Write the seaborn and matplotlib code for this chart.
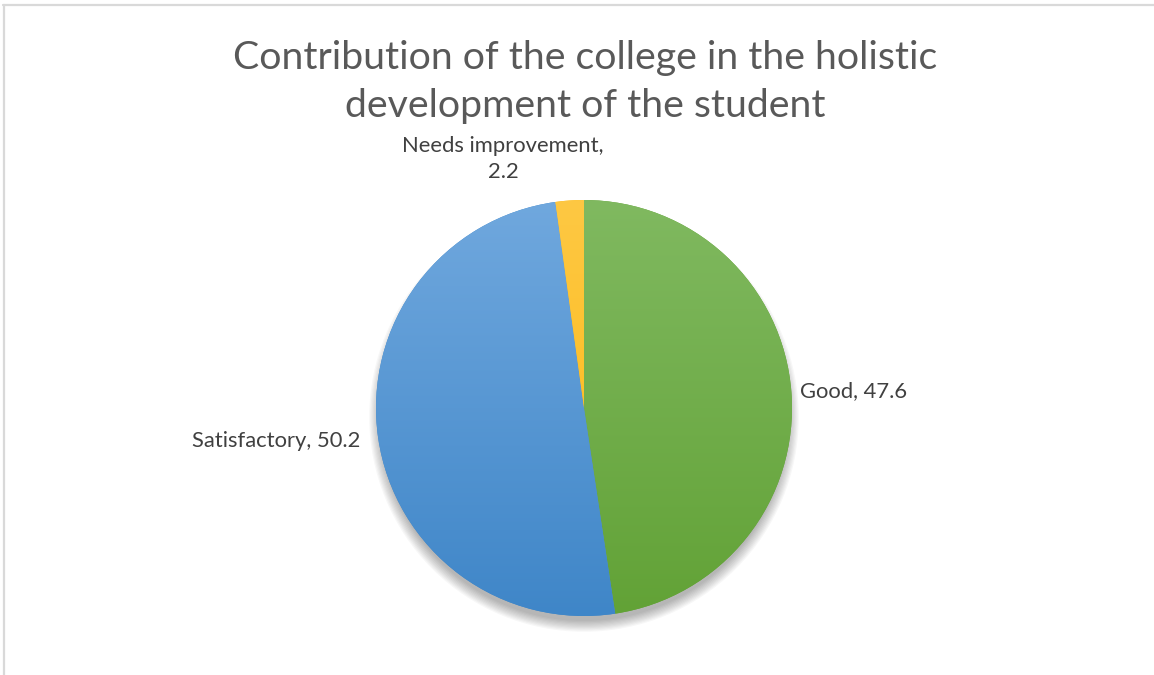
import numpy as np
import matplotlib
matplotlib.use("Agg")
import matplotlib.pyplot as plt
import seaborn as sns
from matplotlib.colors import LinearSegmentedColormap
from matplotlib.patches import Circle
from matplotlib.lines import Line2D

categories = ["Good", "Satisfactory", "Needs improvement"]
values = [47.6, 50.2, 2.2]
top_colors = ["#80b960", "#70a8de", "#fec843"]
bottom_colors = ["#62a236", "#3f86c8", "#fdb70f"]

sns.set_theme(style="white")
plt.rcParams["font.family"] = ["Lato", "DejaVu Sans"]

W, H = 1154, 675
fig = plt.figure(figsize=(W / 100, H / 100), dpi=100)
ax = fig.add_axes([0, 0, 1, 1])

cx, cy, r = 584, H - 408, 208

# soft shadow, mostly below the pie
for i in range(10):
    ax.add_patch(Circle((cx, cy - 9), r - 4 + i * 1.2, color="black",
                        alpha=0.03, lw=0, zorder=1))

wedges, _ = ax.pie(values, startangle=90, counterclock=False,
                   center=(cx, cy), radius=r, frame=True,
                   colors=bottom_colors, wedgeprops=dict(lw=0, zorder=2))
ax.set_xlim(0, W)
ax.set_ylim(0, H)
ax.axis("off")

# vertical gradient fill in each slice
grad = np.linspace(0, 1, 256).reshape(-1, 1)
for w, c0, c1 in zip(wedges, top_colors, bottom_colors):
    cmap = LinearSegmentedColormap.from_list("g", [c0, c1])
    im = ax.imshow(grad, cmap=cmap, extent=[cx - r, cx + r, cy - r, cy + r],
                   origin="upper", aspect="auto", zorder=3)
    im.set_clip_path(w)

label_col = "#404040"
ax.text(800, H - 391, "Good, 47.6", fontsize=15.8, color=label_col,
        ha="left", va="center")
ax.text(360, H - 441, "Satisfactory, 50.2", fontsize=15.8, color=label_col,
        ha="right", va="center")
ax.text(503, H - 159, "Needs improvement,\n2.2", fontsize=15.8, color=label_col,
        ha="center", va="center", linespacing=1.4)

ax.text(585, H - 82, "Contribution of the college in the holistic\ndevelopment of the student",
        fontsize=28.3, color="#595959", ha="center", va="center",
        linespacing=1.38)

# chart border
fig.add_artist(Line2D([3 / W, 1], [1 - 5 / H, 1 - 5 / H], color="#d9d9d9", lw=1.6,
                      transform=fig.transFigure))
fig.add_artist(Line2D([4 / W, 4 / W], [0, 1 - 5 / H], color="#d9d9d9", lw=1.6,
                      transform=fig.transFigure))

fig.savefig("out.png", dpi=100, facecolor="white")
